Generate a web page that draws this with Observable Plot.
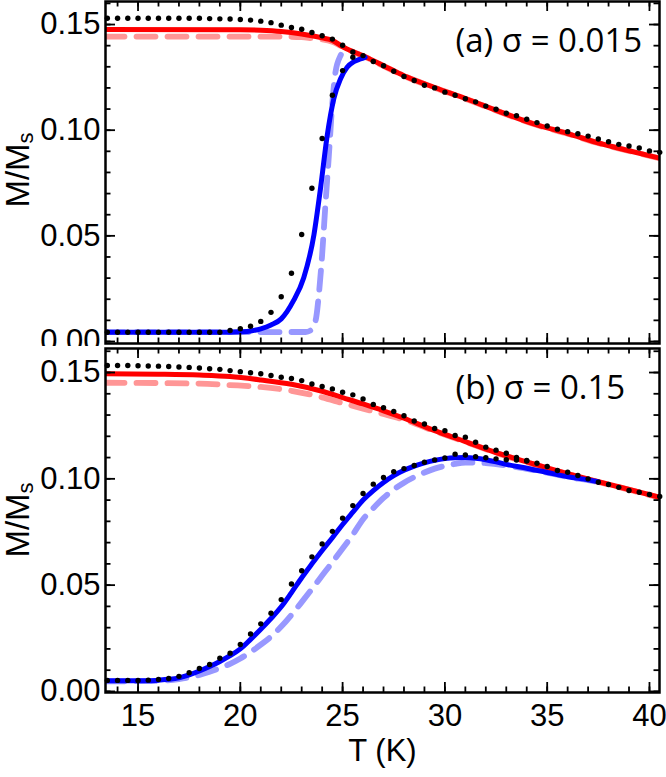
<!DOCTYPE html>
<html>
<head>
<meta charset="utf-8">
<script src="https://cdn.jsdelivr.net/npm/d3@7"></script>
<script src="https://cdn.jsdelivr.net/npm/@observablehq/plot@0.6"></script>
<style>
  body { margin: 0; background: #fff; }
  #fig { position: relative; width: 666px; height: 777px; overflow: hidden; background: #fff; }
  #fig svg { position: absolute; left: 0; overflow: hidden; }
  .ylab { position: absolute; font-family: "Liberation Sans", Arial, sans-serif; font-size: 33px;
          white-space: nowrap; line-height: 1; transform: translate(-50%, -50%) rotate(-90deg); color: #000; }
  .ylab sub { font-size: 22px; vertical-align: -0.22em; }
</style>
</head>
<body>
<div id="fig"></div>
<script>
// ---------- axis ticks ----------
const xMajor = [15, 20, 25, 30, 35, 40];
const xMinor = [14, 15, 16, 17, 18, 19, 20, 21, 22, 23, 24, 25, 26, 27, 28, 29, 30, 31, 32, 33, 34, 35, 36, 37, 38, 39, 40];
const yMajor = [0, 0.05, 0.10, 0.15];
const yMinor = [0, 0.01, 0.02, 0.03, 0.04, 0.05, 0.06, 0.07, 0.08, 0.09, 0.10, 0.11, 0.12, 0.13, 0.14, 0.15, 0.16];
const xLabel = "T (K)";
const panelLabels = ["(a) σ = 0.015", "(b) σ = 0.15"];

// ---------- dot temperatures ----------
const dotT = [13.5, 14, 14.5, 15, 15.5, 16, 16.5, 17, 17.5, 18, 18.5, 19, 19.5, 20, 20.5, 21, 21.5, 22, 22.5, 23,
  23.5, 24, 24.5, 25, 25.5, 26, 26.5, 27, 27.5, 28, 28.5, 29, 29.5, 30, 30.5, 31, 31.5, 32, 32.5, 33,
  33.5, 34, 34.5, 35, 35.5, 36, 36.5, 37, 37.5, 38, 38.5, 39, 39.5, 40, 40.5];

// ---------- panel (a) sigma = 0.015 ----------
const aRedT = [13.41, 20, 21, 22, 23, 23.5, 24, 24.5, 25, 25.5, 26, 27, 28, 29.5, 31, 32.7, 34.3, 36, 37.6, 39.2, 40.49];
const aRedM = [0.1476, 0.1475, 0.1473, 0.1467, 0.1455, 0.1447, 0.1437, 0.1425, 0.1395, 0.1372, 0.1352, 0.1305, 0.1258, 0.1202, 0.1150, 0.1087, 0.1031, 0.0984, 0.0937, 0.0898, 0.0868];
const aRedDashT = [13.41, 22, 23, 23.5, 24, 24.5, 25, 25.5, 26, 27, 28, 29.5, 31, 32.7, 34.3, 36, 37.6, 39.2, 40.49];
const aRedDashM = [0.1443, 0.1443, 0.1440, 0.1435, 0.1430, 0.1418, 0.1394, 0.1371, 0.1351, 0.1304, 0.1257, 0.1201, 0.1149, 0.1086, 0.1030, 0.0983, 0.0936, 0.0897, 0.0867];
const aBlueT = [13.41, 19.5, 20, 20.5, 21, 21.5, 22, 22.6, 23.1, 23.6, 23.92, 24.25, 24.57, 24.9, 25.22, 25.55, 25.87, 26.1];
const aBlueM = [0.0044, 0.0044, 0.0046, 0.0050, 0.0060, 0.0078, 0.0107, 0.0193, 0.0302, 0.0506, 0.0725, 0.0977, 0.1149, 0.1243, 0.1298, 0.1324, 0.1337, 0.1345];
const aBlueDashT = [13.41, 23.2, 23.43, 23.68, 23.84, 24.0, 24.16, 24.33, 24.49, 24.65, 24.9, 25.22];
const aBlueDashM = [0.0044, 0.0045, 0.0052, 0.0099, 0.0224, 0.0412, 0.0647, 0.0882, 0.1118, 0.1274, 0.1353, 0.1386];
const aDotsUpper = [0.1530, 0.1530, 0.1530, 0.1530, 0.1530, 0.1530, 0.1530, 0.1530, 0.1530, 0.1530,
  0.1528, 0.1527, 0.1526, 0.1524, 0.1521, 0.1516, 0.1509, 0.1497, 0.1486, 0.1478,
  0.1462, 0.1447, 0.1431, 0.1402, 0.1370, 0.1353, 0.1325, 0.1305, 0.1279, 0.1254,
  0.1235, 0.1213, 0.1200, 0.1180, 0.1165, 0.1149, 0.1134, 0.1114, 0.1099, 0.1080,
  0.1068, 0.1052, 0.1036, 0.1020, 0.1005, 0.0993, 0.0983, 0.0972, 0.0958, 0.0945,
  0.0933, 0.0925, 0.0916, 0.0902, 0.0895];
const aDotsLower = [0.0044, 0.0044, 0.0044, 0.0044, 0.0044, 0.0044, 0.0044, 0.0044, 0.0044, 0.0044, 0.0044, 0.0044,
  0.0052, 0.0060, 0.0072, 0.0095, 0.0138, 0.0212, 0.0323, 0.0506, 0.0725, 0.0961, 0.1165, 0.1282, 0.1345];

// ---------- panel (b) sigma = 0.15 ----------
const bRedT = [13.41, 16, 18, 19.5, 21, 22.5, 24, 25, 26, 27, 28, 29.4, 31, 32.7, 34.3, 36, 37.6, 39.2, 40.49];
const bRedM = [0.1494, 0.1492, 0.1488, 0.1481, 0.1465, 0.1445, 0.1412, 0.1382, 0.1352, 0.1320, 0.1285, 0.1230, 0.1175, 0.1117, 0.1071, 0.1024, 0.0984, 0.0945, 0.0913];
const bRedDashT = [13.41, 18, 19.5, 21, 22.5, 24, 25, 26, 27, 28, 29.4, 31, 32.7, 34.3, 36, 37.6, 39.2, 40.49];
const bRedDashM = [0.1452, 0.1448, 0.1441, 0.1432, 0.1414, 0.1383, 0.1356, 0.1330, 0.1305, 0.1278, 0.1228, 0.1174, 0.1116, 0.1070, 0.1023, 0.0983, 0.0944, 0.0912];
const bBlueT = [13.41, 15.5, 16, 16.5, 17, 17.5, 18, 18.5, 19, 19.5, 20, 20.5, 21, 21.5, 22, 22.5, 23, 23.5, 24, 24.5,
  25, 25.5, 26, 26.5, 27, 27.5, 28, 28.5, 29, 29.5, 30, 30.5, 31, 31.5, 32, 32.5, 33, 34, 35, 36, 37, 37.5];
const bBlueM = [0.0050, 0.0050, 0.0053, 0.0057, 0.0064, 0.0078, 0.0096, 0.0117, 0.0141, 0.0168, 0.0200, 0.0245, 0.0293, 0.0343, 0.0398, 0.0465, 0.0535, 0.0600, 0.0663, 0.0723,
  0.0785, 0.0843, 0.0900, 0.0945, 0.0983, 0.1015, 0.1040, 0.1060, 0.1075, 0.1087, 0.1095, 0.1099, 0.1100, 0.1097, 0.1090, 0.1080, 0.1068, 0.1050, 0.1030, 0.1010, 0.0995, 0.0986];
const bBlueDashT = [13.41, 16, 17, 17.5, 18, 18.5, 19, 19.5, 20, 20.5, 21, 21.5, 22, 22.5, 23, 23.5, 24, 24.5, 25, 25.5,
  26, 26.5, 27, 27.5, 28, 28.5, 29, 29.5, 30, 30.5, 31, 31.5, 32, 33, 34, 35, 36, 37, 37.5];
const bBlueDashM = [0.0047, 0.0050, 0.0058, 0.0066, 0.0078, 0.0093, 0.0110, 0.0130, 0.0155, 0.0185, 0.0220, 0.0258, 0.0305, 0.0360, 0.0420, 0.0482, 0.0545, 0.0608, 0.0672, 0.0738,
  0.0810, 0.0862, 0.0910, 0.0950, 0.0982, 0.1008, 0.1030, 0.1048, 0.1061, 0.1070, 0.1076, 0.1077, 0.1074, 0.1063, 0.1047, 0.1029, 0.1009, 0.0994, 0.0985];
const bDotsUpper = [0.1533, 0.1533, 0.1533, 0.1532, 0.1531, 0.1530, 0.1528, 0.1526, 0.1524, 0.1521,
  0.1518, 0.1515, 0.1509, 0.1504, 0.1499, 0.1494, 0.1486, 0.1478, 0.1472, 0.1462,
  0.1446, 0.1434, 0.1423, 0.1407, 0.1395, 0.1376, 0.1350, 0.1334, 0.1317, 0.1297,
  0.1272, 0.1258, 0.1237, 0.1226, 0.1204, 0.1196, 0.1172, 0.1149, 0.1135, 0.1120,
  0.1100, 0.1086, 0.1073, 0.1058, 0.1039, 0.1031, 0.1016, 0.1000, 0.0984, 0.0973,
  0.0960, 0.0945, 0.0937, 0.0926, 0.0917];
const bDotsLower = [0.0052, 0.0052, 0.0052, 0.0052, 0.0053, 0.0056, 0.0061, 0.0071, 0.0088, 0.0108,
  0.0127, 0.0156, 0.0180, 0.0221, 0.0270, 0.0318, 0.0368, 0.0432, 0.0505, 0.0568,
  0.0633, 0.0694, 0.0753, 0.0815, 0.0874, 0.0931, 0.0975, 0.1006, 0.1033, 0.1048,
  0.1063, 0.1078, 0.1089, 0.1098, 0.1116, 0.1112, 0.1104, 0.1099, 0.1094, 0.1090,
  0.1088, 0.1084];

// ---------- helpers ----------
const rows = (T, M) => M.map((m, i) => ({T: T[i], M: m}));
const xDomain = [13.41, 40.49];
const FONT = '"Liberation Sans", Arial, Helvetica, sans-serif';
const C = {red: "#ff0000", redDash: "#ff9696", blue: "#0000ff", blueDash: "#9898ff"};
const W = 666, ML = 105, MR = 7;
const plotW = W - ML - MR;

// inward ticks on all four sides of the frame (lengths given in px, converted to data units)
function inwardTicks(yDomain, plotH, minorLen, majorLen) {
  const kx = (xDomain[1] - xDomain[0]) / plotW;
  const ky = (yDomain[1] - yDomain[0]) / plotH;
  const st = {stroke: "black", strokeWidth: 1.8};
  const out = [];
  [[yMinor, minorLen], [yMajor, majorLen]].forEach(([v, len]) => {
    out.push(Plot.ruleY(v, {y: d => d, x1: () => xDomain[0], x2: () => xDomain[0] + len * kx, ...st}));
    out.push(Plot.ruleY(v, {y: d => d, x1: () => xDomain[1] - len * kx, x2: () => xDomain[1], ...st}));
  });
  [[xMinor, minorLen], [xMajor, majorLen]].forEach(([v, len]) => {
    out.push(Plot.ruleX(v, {x: d => d, y1: () => yDomain[0], y2: () => yDomain[0] + len * ky, ...st}));
    out.push(Plot.ruleX(v, {x: d => d, y1: () => yDomain[1] - len * ky, y2: () => yDomain[1], ...st}));
  });
  return out;
}

function panel(cfg) {
  const {red, redDash, blue, blueDash, dotsUp, dotsLow, yDomain, height, marginTop, marginBottom, label, xLabels} = cfg;
  const plotH = height - marginTop - marginBottom;
  const marks = [
    Plot.line(redDash, {x: "T", y: "M", stroke: C.redDash, strokeWidth: 5.8, strokeDasharray: "19,12", curve: "monotone-x", clip: true}),
    Plot.line(blueDash, {x: "T", y: "M", stroke: C.blueDash, strokeWidth: 5.8, strokeDasharray: "19,12", curve: "monotone-x", clip: true}),
    Plot.line(red, {x: "T", y: "M", stroke: C.red, strokeWidth: 5, curve: "monotone-x", clip: true}),
    Plot.line(blue, {x: "T", y: "M", stroke: C.blue, strokeWidth: 5, curve: "monotone-x", clip: true}),
    Plot.dot(dotsUp, {x: "T", y: "M", r: 2.7, fill: "black", stroke: "none"}),
    Plot.dot(dotsLow, {x: "T", y: "M", r: 2.7, fill: "black", stroke: "none"}),
    Plot.text([label], {text: d => d, frameAnchor: "top-left", dx: 350, dy: 50, lineAnchor: "bottom", textAnchor: "start",
      fontFamily: '"Open Sans", "Noto Sans", sans-serif', fontSize: 33, fill: "black"}),
    Plot.frame({stroke: "black", strokeWidth: 2.5}),
    ...inwardTicks(yDomain, plotH, 5.5, 10),
    Plot.axisY(yMajor, {anchor: "left", tickSize: 0, tickPadding: 5, tickFormat: d3.format(".2f"), label: null,
      fontSize: 31, fontFamily: FONT, fill: "black"})
  ];
  if (xLabels) {
    marks.push(Plot.axisX(xMajor, {anchor: "bottom", tickSize: 0, tickPadding: 11, tickFormat: d => String(d), label: null,
      fontSize: 31, fontFamily: FONT, fill: "black"}));
    marks.push(Plot.text([xLabel], {text: d => d, frameAnchor: "bottom", dy: 68, lineAnchor: "bottom",
      fontSize: 31, fontFamily: FONT, fill: "black"}));
  } else {
    marks.push(Plot.axisX(xMajor, {anchor: "bottom", tickSize: 0, tickFormat: () => "", label: null}));
  }
  return Plot.plot({
    width: W, height, marginLeft: ML, marginRight: MR, marginTop, marginBottom,
    x: {domain: xDomain}, y: {domain: yDomain},
    style: {fontFamily: FONT, background: "white", color: "black", overflow: "hidden"},
    marks
  });
}

const fig = document.getElementById("fig");

const topPanel = panel({
  red: rows(aRedT, aRedM), redDash: rows(aRedDashT, aRedDashM),
  blue: rows(aBlueT, aBlueM), blueDash: rows(aBlueDashT, aBlueDashM),
  dotsUp: rows(dotT, aDotsUpper), dotsLow: rows(dotT, aDotsLower),
  yDomain: [-0.00095, 0.1609], height: 346, marginTop: 1, marginBottom: 3,
  label: panelLabels[0], xLabels: false
});
topPanel.style.top = "0px";
fig.appendChild(topPanel);

const bottomPanel = panel({
  red: rows(bRedT, bRedM), redDash: rows(bRedDashT, bRedDashM),
  blue: rows(bBlueT, bBlueM), blueDash: rows(bBlueDashT, bBlueDashM),
  dotsUp: rows(dotT, bDotsUpper), dotsLow: rows(dotT, bDotsLower),
  yDomain: [-0.0005, 0.1613], height: 431, marginTop: 2, marginBottom: 85,
  label: panelLabels[1], xLabels: true
});
bottomPanel.style.top = "346px";
fig.appendChild(bottomPanel);

[[19, 170], [19, 520]].forEach(([cx, cy]) => {
  const d = document.createElement("div");
  d.className = "ylab";
  d.style.left = cx + "px";
  d.style.top = cy + "px";
  d.innerHTML = "M/M<sub>s</sub>";
  fig.appendChild(d);
});
</script>
</body>
</html>
